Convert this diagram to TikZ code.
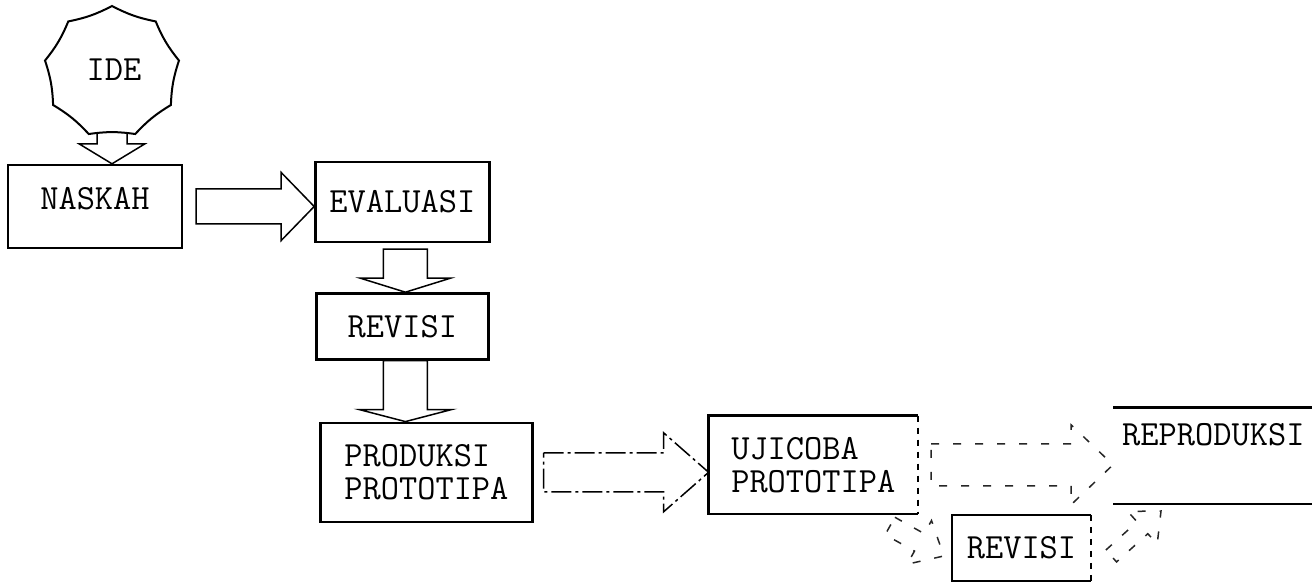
\documentclass[tikz,border=0pt]{standalone}
\usepackage{fontspec}
\usepackage{tikz}
\usetikzlibrary{positioning,calc}
\tikzset{
  boxline/.style={line width=1.2pt},
  procbox/.style={rectangle,draw,boxline,align=left,inner xsep=4pt,inner ysep=2pt,
    font=\fontsize{17.7}{16.5}\selectfont\ttfamily},
  openbox/.style={procbox,draw=none},
  blockline/.style={line width=0.75pt,line join=miter},
  dashdotline/.style={blockline,dash pattern=on 10pt off 2pt on 1.5pt off 2pt},
  fadedline/.style={blockline,black!85,dash pattern=on 4pt off 7pt},
  ideline/.style={line width=1pt,fill=white},
}
\newcommand\blockarrow[6][]{%
  \coordinate (ba-h) at ($(#3)!#6!(#2)$);
  \draw[blockline,#1] ($(#2)!#4!90:(#3)$) -- ($(ba-h)!#4!90:(#3)$) -- ($(ba-h)!#5!90:(#3)$)
    -- (#3) -- ($(ba-h)!#5!-90:(#3)$) -- ($(ba-h)!#4!-90:(#3)$) -- ($(#2)!#4!-90:(#3)$) -- cycle;
}
\begin{document}
\begin{tikzpicture}[x=0.5pt,y=0.5pt]
  \useasboundingbox (0,0) rectangle (1312,-582);
  \node[procbox,minimum width=87pt,minimum height=41.5pt,text depth=8pt] (naskah) at (95,-206.5) {NASKAH};
  \node[procbox,minimum width=87pt,minimum height=40pt,right=65.5pt of naskah,yshift=2.25pt] (evaluasi) {EVALUASI};
  \node[procbox,minimum width=86pt,minimum height=33pt,below=24.5pt of evaluasi] (revisi) {REVISI};
  \node[procbox,minimum width=106pt,minimum height=49.5pt,below=30.5pt of revisi.south west,anchor=north west,xshift=2pt] (produksi) {PRODUKSI\\PROTOTIPA};
  \node[openbox,minimum width=103.5pt,minimum height=48pt,right=87.5pt of produksi,yshift=3.75pt] (ujicoba) {UJICOBA\\PROTOTIPA};
  \node[openbox,minimum width=99pt,minimum height=47pt,text depth=21pt,right=97.5pt of ujicoba,yshift=4.5pt] (reproduksi) {REPRODUKSI};
  \node[openbox,minimum width=68.5pt,minimum height=32pt] (revisi2) at (1021.5,-548) {REVISI};
  \draw[boxline] (ujicoba.north east) -- (ujicoba.north west) -- (ujicoba.south west) -- (ujicoba.south east);
  \draw[boxline,dashed] (ujicoba.north east) -- (ujicoba.south east);
  \draw[boxline] (reproduksi.north west) -- (reproduksi.north east);
  \draw[boxline] (reproduksi.south west) -- (reproduksi.south east);
  \draw[boxline] (revisi2.north east) -- (revisi2.north west) -- (revisi2.south west) -- (revisi2.south east);
  \draw[boxline,dashed] (revisi2.north east) -- (revisi2.south east);
  \coordinate (ide) at (112,-72);
  \coordinate (a1s) at ($(ide)+(0,-59)$);
  \coordinate (a1e) at (ide |- naskah.north);
  \blockarrow{a1s}{a1e}{7.5pt}{16.5pt}{10pt}
  \draw[ideline] ($(ide)+(90:34pt and 33pt)$)
    \foreach \a in {50,10,...,-270} {to[bend right=8] ($(ide)+(\a:34pt and 33pt)$)} -- cycle;
  \node[font=\fontsize{17.7}{16.5}\selectfont\ttfamily] (idetext) at ($(ide)+(2,2)$) {IDE};
  \coordinate (a2s) at ($(naskah.east)+(13,0)$);
  \coordinate (a2e) at (a2s -| evaluasi.west);
  \blockarrow{a2s}{a2e}{8.75pt}{17pt}{16.5pt}
  \coordinate (a3s) at ($(evaluasi.south)+(3,-6)$);
  \coordinate (a3e) at (a3s |- revisi.north);
  \blockarrow{a3s}{a3e}{11pt}{22.5pt}{7pt}
  \coordinate (a4s) at ($(revisi.south)+(3,0)$);
  \coordinate (a4e) at (a4s |- produksi.north);
  \blockarrow{a4s}{a4e}{11pt}{23pt}{6pt}
  \coordinate (a5s) at ($(produksi.east)+(10,0)$);
  \coordinate (a5e) at (a5s -| ujicoba.west);
  \blockarrow[dashdotline]{a5s}{a5e}{9.75pt}{19.75pt}{22.5pt}
  \coordinate (a6s) at ($(ujicoba.east)+(13,0)$);
  \coordinate (a6e) at (a6s -| reproduksi.west);
  \blockarrow[fadedline]{a6s}{a6e}{10.5pt}{20pt}{21pt}
  \coordinate (a7s) at ($(ujicoba.south east)+(-28,-12)$);
  \coordinate (a7e) at ($(revisi2.west)+(-8,-8)$);
  \blockarrow[fadedline]{a7s}{a7e}{5pt}{12.5pt}{14pt}
  \coordinate (a8s) at ($(revisi2.east)+(20,-8)$);
  \coordinate (a8e) at ($(reproduksi.south west)+(48,-7)$);
  \blockarrow[fadedline]{a8s}{a8e}{4pt}{11pt}{12.5pt}
\end{tikzpicture}
\end{document}
